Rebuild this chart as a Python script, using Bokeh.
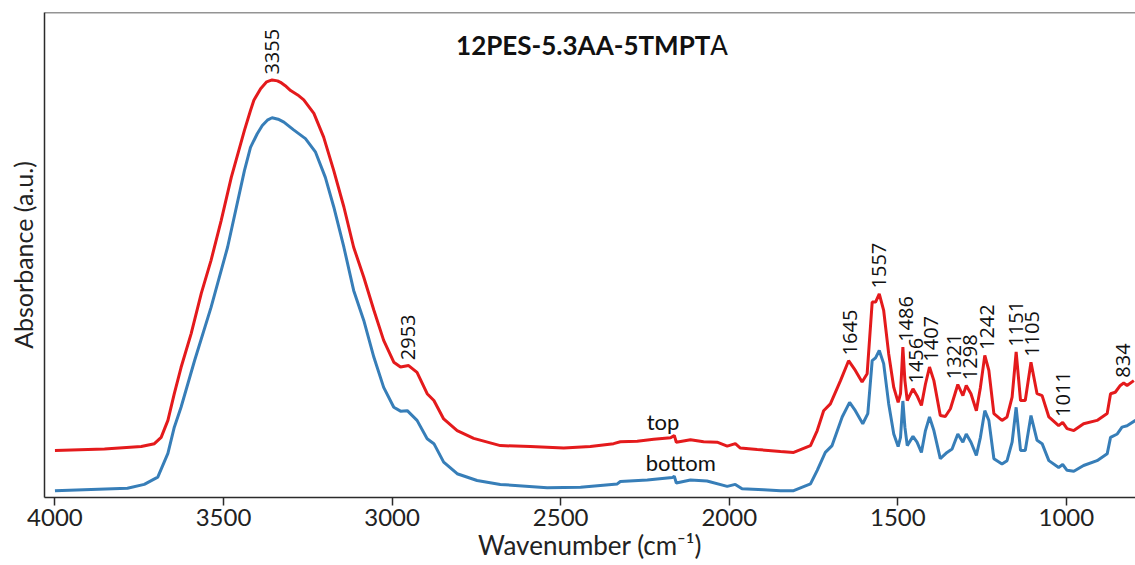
import numpy as np
from math import pi
from bokeh.plotting import figure
from bokeh.models import Range1d, FixedTicker, Label, Span, ColumnDataSource
from bokeh.core.properties import value
from bokeh.embed import file_html
from bokeh.resources import INLINE

# ---------------- data ----------------
wavenumber_top = [4000, 3853, 3744, 3705, 3685, 3665, 3646, 3626, 3596, 3566, 3537, 3507, 3477, 3438,
                  3420, 3410, 3390, 3372, 3356, 3340, 3331, 3317, 3301, 3280, 3262, 3232, 3203, 3173, 3143, 3114, 3084, 3054, 3025,
                  2995, 2975, 2951, 2926, 2896, 2876, 2847, 2807, 2758, 2679, 2590, 2491, 2412, 2343,
                  2323, 2273, 2224, 2174, 2163, 2157, 2115, 2076, 2036, 2006, 1982, 1967, 1917, 1848,
                  1809, 1759, 1739, 1720, 1700, 1670, 1646, 1626, 1606, 1591, 1576, 1566, 1555, 1542,
                  1527, 1512, 1499, 1492, 1485, 1479, 1472, 1455, 1443, 1430, 1418, 1406, 1393, 1374,
                  1359, 1344, 1322, 1307, 1297, 1283, 1267, 1255, 1242, 1230, 1215, 1191, 1176, 1161,
                  1149, 1136, 1122, 1105, 1087, 1072, 1052, 1023, 1011, 998, 978, 949, 909, 879, 869,
                  855, 840, 830, 820, 800]
absorbance_top = [0.097, 0.100, 0.105, 0.111, 0.124, 0.159, 0.214, 0.268, 0.338, 0.421, 0.489, 0.571, 0.660, 0.757,
                  0.798, 0.819, 0.843, 0.857, 0.861, 0.859, 0.856, 0.849, 0.839, 0.830, 0.820, 0.792, 0.743, 0.674, 0.599, 0.516, 0.454, 0.386, 0.324,
                  0.279, 0.269, 0.272, 0.258, 0.214, 0.200, 0.162, 0.138, 0.122, 0.107, 0.105, 0.102, 0.105, 0.111,
                  0.115, 0.116, 0.120, 0.123, 0.128, 0.114, 0.119, 0.115, 0.114, 0.106, 0.111, 0.102, 0.099, 0.095,
                  0.093, 0.107, 0.138, 0.179, 0.193, 0.241, 0.282, 0.262, 0.238, 0.255, 0.403, 0.403, 0.420, 0.386,
                  0.296, 0.227, 0.196, 0.214, 0.310, 0.241, 0.200, 0.224, 0.210, 0.190, 0.234, 0.269, 0.241, 0.169,
                  0.167, 0.183, 0.233, 0.210, 0.231, 0.214, 0.179, 0.227, 0.293, 0.262, 0.173, 0.159, 0.166, 0.207,
                  0.300, 0.200, 0.200, 0.279, 0.214, 0.210, 0.166, 0.148, 0.155, 0.142, 0.138, 0.152, 0.159, 0.173, 0.214,
                  0.217, 0.231, 0.236, 0.231, 0.241]

wavenumber_bottom = [4000, 3785, 3735, 3695, 3665, 3646, 3626, 3586, 3537, 3488, 3438, 3420, 3400, 3385, 3370, 3356,
                     3338, 3321, 3292, 3257, 3227, 3198, 3173, 3143, 3114, 3084, 3054, 3025, 2995, 2975, 2955,
                     2926, 2896, 2876, 2847, 2807, 2748, 2679, 2540, 2441, 2332, 2323, 2243, 2169, 2163,
                     2157, 2115, 2066, 2006, 1982, 1962, 1898, 1848, 1809, 1759, 1739, 1715, 1695, 1665,
                     1643, 1626, 1604, 1589, 1576, 1566, 1555, 1542, 1527, 1512, 1499, 1492, 1485, 1479,
                     1472, 1455, 1443, 1430, 1418, 1406, 1393, 1374, 1354, 1339, 1322, 1307, 1297, 1283,
                     1267, 1255, 1242, 1230, 1215, 1191, 1176, 1161, 1149, 1136, 1122, 1105, 1087, 1072,
                     1052, 1023, 1011, 998, 978, 949, 909, 879, 869, 849, 835, 820, 795]
absorbance_bottom = [0.014, 0.019, 0.027, 0.042, 0.091, 0.145, 0.186, 0.282, 0.392, 0.516, 0.674, 0.722, 0.750, 0.767, 0.778, 0.783,
                     0.780, 0.774, 0.758, 0.740, 0.712, 0.660, 0.599, 0.516, 0.427, 0.365, 0.289, 0.227, 0.186, 0.178, 0.179,
                     0.159, 0.121, 0.111, 0.073, 0.049, 0.035, 0.027, 0.020, 0.021, 0.028, 0.033, 0.036, 0.041, 0.044,
                     0.030, 0.036, 0.034, 0.023, 0.027, 0.018, 0.016, 0.014, 0.014, 0.028, 0.056, 0.093, 0.107, 0.166,
                     0.196, 0.179, 0.152, 0.173, 0.282, 0.288, 0.303, 0.276, 0.193, 0.131, 0.105, 0.124, 0.199, 0.145,
                     0.107, 0.126, 0.114, 0.093, 0.138, 0.166, 0.138, 0.080, 0.093, 0.100, 0.131, 0.114, 0.131, 0.114,
                     0.087, 0.124, 0.179, 0.159, 0.080, 0.069, 0.076, 0.114, 0.186, 0.097, 0.097, 0.169, 0.118, 0.111,
                     0.076, 0.062, 0.068, 0.056, 0.054, 0.066, 0.076, 0.090, 0.124, 0.131, 0.145, 0.148, 0.159]

peak_positions = [3355, 2953, 1645, 1557, 1486, 1456, 1407, 1321, 1298, 1242, 1151, 1105, 1011, 834]
peak_labels = [str(v) for v in peak_positions]

x_ticks = [4000, 3500, 3000, 2500, 2000, 1500, 1000]
title_main = "12PES-5.3AA-5TMPT"
title_tail = "A"
series_names = ["top", "bottom"]

# ---------------- styling ----------------
RED = "#E41A1C"
BLUE = "#377EB8"
AXIS = "#2b2b2b"
FONT = "Lato"
PEAK_FONT = "Open Sans"
label_nudge_px = [0, 0, 1, 0, 3, 3, 2, -4, 4, 2, 1, 1, 0, 1]   # small horizontal nudges of the peak labels

p = figure(width=1135, height=565, x_range=Range1d(4031, 795), y_range=Range1d(0, 1),
           output_backend="svg", toolbar_location=None,
           min_border_left=44, min_border_right=0, min_border_top=12, min_border_bottom=68)
p.outline_line_color = None
p.grid.visible = False
p.background_fill_color = "white"
p.border_fill_color = "white"

p.xaxis.ticker = FixedTicker(ticks=x_ticks)
p.xaxis.minor_tick_line_color = None
p.xaxis.major_tick_in = 0
p.xaxis.major_tick_out = 8
p.xaxis.major_tick_line_color = AXIS
p.xaxis.major_tick_line_width = 1.5
p.xaxis.axis_line_color = AXIS
p.xaxis.axis_line_width = 1.5
p.xaxis.major_label_text_font = FONT
p.xaxis.major_label_text_font_size = "24px"
p.xaxis.major_label_text_color = "#222222"
p.xaxis.major_label_standoff = 3
p.xaxis.axis_label = "Wavenumber (cm\u207b\u00b9)"
p.xaxis.axis_label_text_font = FONT
p.xaxis.axis_label_text_font_style = "normal"
p.xaxis.axis_label_text_font_size = "26px"
p.xaxis.axis_label_text_color = "#222222"
p.xaxis.axis_label_standoff = 0

p.yaxis.ticker = FixedTicker(ticks=[])
p.yaxis.minor_tick_line_color = None
p.yaxis.major_tick_line_color = None
p.yaxis.axis_line_color = AXIS
p.yaxis.axis_line_width = 1.5
p.yaxis.axis_label = "Absorbance (a.u.)"
p.yaxis.axis_label_text_font = FONT
p.yaxis.axis_label_text_font_style = "normal"
p.yaxis.axis_label_text_font_size = "25px"
p.yaxis.axis_label_text_color = "#222222"
p.yaxis.axis_label_standoff = 7

p.add_layout(Span(location=1, dimension="width", line_color=AXIS, line_width=1.5))

p.line(wavenumber_bottom, absorbance_bottom, line_color=BLUE, line_width=3)
p.line(wavenumber_top, absorbance_top, line_color=RED, line_width=3)

# peak labels sit just above the local maximum of the top curve
wt = np.array(wavenumber_top)
at = np.array(absorbance_top)
label_y = [float(at[np.abs(wt - w) <= 10].max()) + 0.011 for w in peak_positions]
src = ColumnDataSource(dict(x=peak_positions, y=label_y, text=peak_labels, dx=label_nudge_px))
p.text(x="x", y="y", text="text", x_offset="dx", source=src, angle=pi / 2,
       text_align="left", text_baseline="middle",
       text_font=value(PEAK_FONT), text_font_size="20px", text_color="#111111")

# series names
p.add_layout(Label(x=2245, y=0.157, text=series_names[0], text_align="left",
                   text_baseline="alphabetic", text_font=FONT, text_font_size="22px",
                   text_color="#111111"))
p.add_layout(Label(x=2248, y=0.073, text=series_names[1], text_align="left",
                   text_baseline="alphabetic", text_font=FONT, text_font_size="22px",
                   text_color="#111111"))

# title inside the plot
p.add_layout(Label(x=2056, y=0.934, text=title_main, text_align="right",
                   text_baseline="alphabetic", text_font=FONT, text_font_size="26px",
                   text_font_style="bold", text_color="#111111"))
p.add_layout(Label(x=2056, y=0.934, text=title_tail, text_align="left",
                   text_baseline="alphabetic", text_font=FONT, text_font_size="26px",
                   text_font_style="normal", text_color="#111111"))

open("out.html", "w").write(file_html(p, INLINE))
